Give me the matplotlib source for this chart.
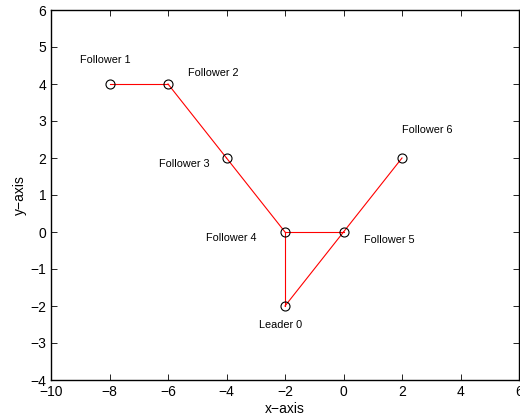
import numpy as np
import matplotlib
matplotlib.use('Agg')
import matplotlib.pyplot as plt

plt.rcParams['font.family'] = ['Liberation Sans', 'DejaVu Sans']

# node positions
names = ['Leader 0', 'Follower 1', 'Follower 2', 'Follower 3',
         'Follower 4', 'Follower 5', 'Follower 6']
xs = [-2, -8, -6, -4, -2, 0, 2]
ys = [-2, 4, 4, 2, 0, 0, 2]

# edges between nodes (indices)
edges = [(1, 2), (2, 3), (3, 4), (4, 0), (4, 5), (5, 0), (5, 6)]

# label anchor points (left edge, vertical middle)
lab_x = [-2.9, -9.0, -5.3, -6.3, -4.7, 0.7, 2.0]
lab_y = [-2.5, 4.65, 4.3, 1.85, -0.17, -0.22, 2.75]

fig = plt.figure(figsize=(5.2, 4.18), dpi=100)
ax = fig.add_axes([51/520, 1 - 380/418, 468/520, 370/418])

for a, b in edges:
    ax.plot([xs[a], xs[b]], [ys[a], ys[b]], color='red', lw=0.8)

ax.plot(xs, ys, 'o', mfc='none', mec='black', ms=6.5, mew=0.8)

for n, tx, ty in zip(names, lab_x, lab_y):
    ax.text(tx, ty, n, fontsize=7.8, ha='left', va='center')

ax.set_xlim(-10, 6)
ax.set_ylim(-4, 6)
ax.set_xticks(np.arange(-10, 7, 2))
ax.set_yticks(np.arange(-4, 7, 1))
ax.tick_params(direction='in', length=4, width=0.6, labelsize=10,
               top=True, right=True)
for s in ax.spines.values():
    s.set_linewidth(1.0)
ax.set_xlabel('x\u2212axis', fontsize=10, labelpad=2)
ax.set_ylabel('y\u2212axis', fontsize=10, labelpad=2)

plt.savefig('out.png', dpi=100)
